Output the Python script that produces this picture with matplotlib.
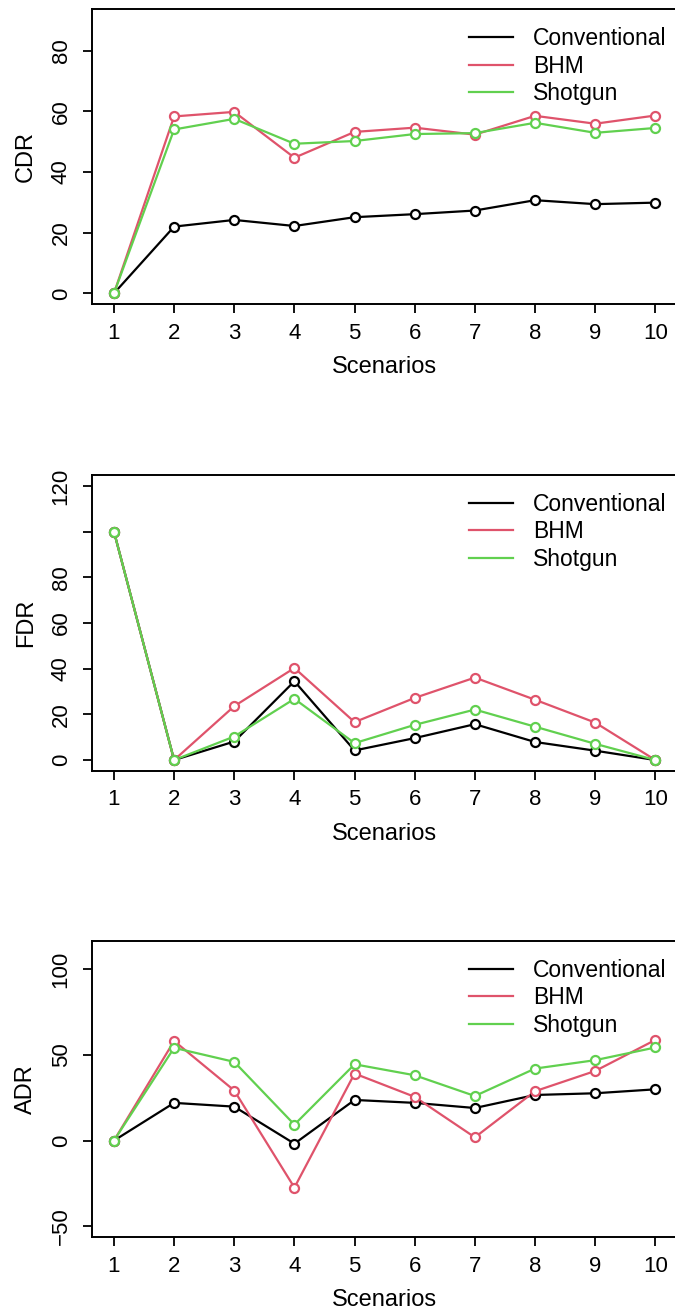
import matplotlib
matplotlib.use("Agg")
import matplotlib.pyplot as plt

plt.rcParams['font.family'] = ['Liberation Sans', 'DejaVu Sans']

scenarios = [1, 2, 3, 4, 5, 6, 7, 8, 9, 10]
series_names = ["Conventional", "BHM", "Shotgun"]
series_colors = ["black", "#DF536B", "#61D04F"]

cdr_conventional = [0, 22.0, 24.2, 22.2, 25.1, 26.1, 27.3, 30.7, 29.4, 29.9]
cdr_bhm = [0, 58.3, 59.8, 44.7, 53.2, 54.6, 52.3, 58.5, 55.9, 58.6]
cdr_shotgun = [0, 54.0, 57.5, 49.3, 50.2, 52.5, 52.8, 56.2, 52.9, 54.5]

fdr_conventional = [100, 0, 8.1, 34.5, 4.2, 9.6, 15.7, 7.9, 4.1, 0]
fdr_bhm = [100, 0, 23.6, 40.3, 16.6, 27.2, 36.1, 26.4, 16.4, 0]
fdr_shotgun = [100, 0, 10.3, 26.8, 7.4, 15.4, 22.1, 14.6, 7.1, 0]

adr_conventional = [0, 22.0, 19.8, -1.8, 23.7, 22.0, 19.0, 26.6, 27.6, 29.9]
adr_bhm = [0, 58.1, 29.2, -27.4, 39.1, 25.5, 1.9, 28.8, 40.6, 58.7]
adr_shotgun = [0, 54.1, 45.9, 9.3, 44.5, 38.1, 26.0, 42.0, 46.9, 54.3]

panels = [
    ("CDR", [cdr_conventional, cdr_bhm, cdr_shotgun], (0, 90), [0, 20, 40, 60, 80], ["0", "20", "40", "60", "80"]),
    ("FDR", [fdr_conventional, fdr_bhm, fdr_shotgun], (0, 120), [0, 20, 40, 60, 80, 100, 120], ["0", "20", "40", "60", "80", "", "120"]),
    ("ADR", [adr_conventional, adr_bhm, adr_shotgun], (-50, 110), [-50, 0, 50, 100], ["\u221250", "0", "50", "100"]),
]

W, H = 675, 1313
fig = plt.figure(figsize=(W / 100, H / 100), dpi=100)

boxes = [(92.3, 9.3, 304.3), (92.3, 475, 771), (92.3, 941, 1237.3)]
right_px = 677
fs_tick = 16
fs_label = 17
fs_leg = 16.5

for (label, data, (lo, hi), yt, ytl), (lpx, tpx, bpx) in zip(panels, boxes):
    ax = fig.add_axes([lpx / W, 1 - bpx / H, (right_px - lpx) / W, (bpx - tpx) / H])
    for vals, name, col in zip(data, series_names, series_colors):
        ax.plot(scenarios, vals, color=col, lw=1.6, label=name, zorder=2)
        ax.plot(scenarios, vals, linestyle='none', marker='o', markersize=6.5,
                markerfacecolor='white', markeredgecolor=col, markeredgewidth=1.6, zorder=3)
    pad = 0.04 * (hi - lo)
    ax.set_ylim(lo - pad, hi + pad)
    ax.set_xlim(1 - 0.36, 10 + 0.36)
    ax.set_xticks(scenarios)
    ax.set_xticklabels([str(s) for s in scenarios])
    ax.set_yticks(yt)
    ax.set_yticklabels(ytl)
    for t in ax.get_yticklabels():
        t.set_rotation(90)
        t.set_va('center')
    ax.tick_params(axis='both', direction='out', length=6.8, width=1.3, labelsize=fs_tick, color='black')
    ax.tick_params(axis='y', pad=8)
    ax.tick_params(axis='x', pad=6.5)
    for s in ax.spines.values():
        s.set_linewidth(1.4)
    ax.set_ylabel(label, fontsize=fs_label)
    ax.yaxis.label.set_va('center')
    ax.yaxis.set_label_coords(-(lpx - 25.8) / (right_px - lpx), 0.5)
    ax.set_xlabel("Scenarios", fontsize=fs_label)
    ax.xaxis.label.set_va('center')
    ax.xaxis.set_label_coords(0.5, -(63) / (bpx - tpx))
    leg = ax.legend(loc='upper left', bbox_to_anchor=((469 - lpx) / (right_px - lpx), 0.94),
                    frameon=False, fontsize=fs_leg, handlelength=1.9, handletextpad=0.9,
                    labelspacing=0.2, borderpad=0, borderaxespad=0)
    for lh in leg.get_lines():
        lh.set_linewidth(1.6)

fig.savefig("out.png", dpi=100)
